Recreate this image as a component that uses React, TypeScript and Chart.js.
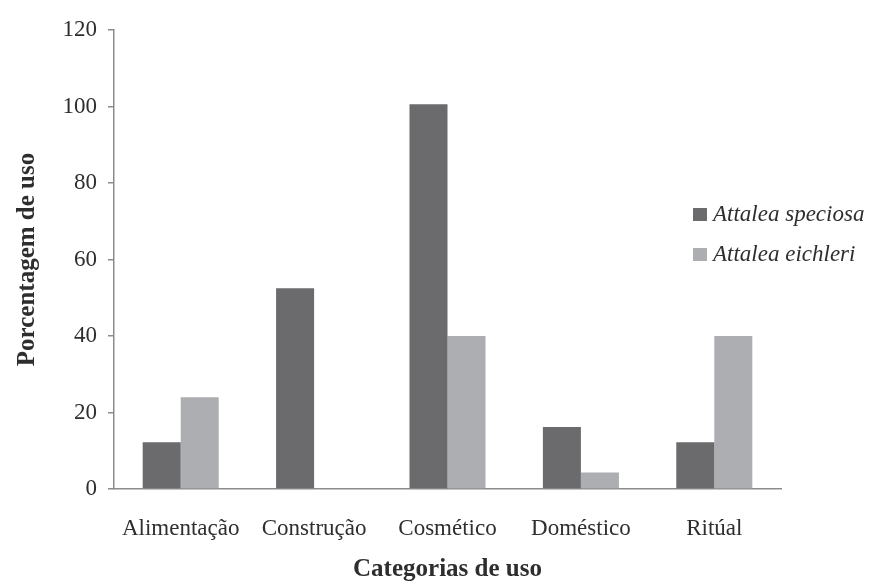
import React, { useEffect, useRef } from "react";
import { Chart, registerables } from "chart.js";

Chart.register(...registerables);

const categories = ["Alimentação", "Construção", "Cosmético", "Doméstico", "Ritúal"];
const seriesNames = ["Attalea speciosa", "Attalea eichleri"];
const speciosa = [12.2, 52.5, 100.6, 16.2, 12.2];
const eichleri = [24, 0, 40, 4.3, 40];
const colors = ["#6b6b6d", "#adaeb1"];
const yTicks = [0, 20, 40, 60, 80, 100, 120];

const FONT = "'Liberation Serif', 'Times New Roman', serif";
const TEXT = "#2e2e2e";

export default function App() {
  const ref = useRef<HTMLCanvasElement | null>(null);

  useEffect(() => {
    document.body.style.margin = "0";
    const canvas = ref.current;
    if (!canvas) return;
    const chart = new Chart(canvas, {
      type: "bar",
      data: {
        labels: categories,
        datasets: [
          { label: seriesNames[0], data: speciosa, backgroundColor: colors[0], borderWidth: 0 },
          { label: seriesNames[1], data: eichleri, backgroundColor: colors[1], borderWidth: 0 },
        ],
      },
      options: {
        animation: false,
        responsive: false,
        maintainAspectRatio: false,
        layout: { padding: { left: 0, right: 92, top: 30, bottom: 0 } },
        datasets: { bar: { categoryPercentage: 0.57, barPercentage: 1 } },
        plugins: {
          legend: { display: false },
          tooltip: { enabled: false },
        },
        scales: {
          x: {
            grid: { display: false, drawTicks: false },
            border: { display: true, color: "#8c8c8c", width: 1.5 },
            ticks: { color: TEXT, font: { family: FONT, size: 23 }, padding: 26 },
            title: {
              display: true,
              text: "Categorias de uso",
              color: TEXT,
              font: { family: FONT, size: 25, weight: "bold" },
              padding: { top: 0, bottom: 2 },
            },
            afterFit: (s: any) => { s.height = 98; },
          },
          y: {
            min: 0,
            max: 120,
            afterBuildTicks: (s: any) => { s.ticks = yTicks.map((v) => ({ value: v })); },
            grid: { drawOnChartArea: false, drawTicks: true, tickLength: 6, color: "#8c8c8c", lineWidth: 1.5 },
            border: { display: true, color: "#8c8c8c", width: 1.5 },
            ticks: { color: TEXT, font: { family: FONT, size: 23 }, padding: 11 },
            title: {
              display: true,
              text: "Porcentagem de uso",
              color: TEXT,
              font: { family: FONT, size: 25, weight: "bold" },
              padding: { top: 13, bottom: 0 },
            },
            afterFit: (s: any) => { s.width = 114; },
          },
        },
      },
    });
    return () => chart.destroy();
  }, []);

  return (
    <div style={{ position: "relative", width: 873, height: 587, background: "#fff" }}>
      <canvas ref={ref} width={873} height={587} style={{ display: "block" }} />
      <div style={{ position: "absolute", left: 693, top: 194, fontFamily: FONT, fontStyle: "italic", fontSize: 23, color: TEXT }}>
        {seriesNames.map((n, i) => (
          <div key={n} style={{ display: "flex", alignItems: "center", height: 40 }}>
            <span style={{ display: "inline-block", width: 14, height: 13, background: colors[i], marginRight: 6 }} />
            <span>{n}</span>
          </div>
        ))}
      </div>
    </div>
  );
}
